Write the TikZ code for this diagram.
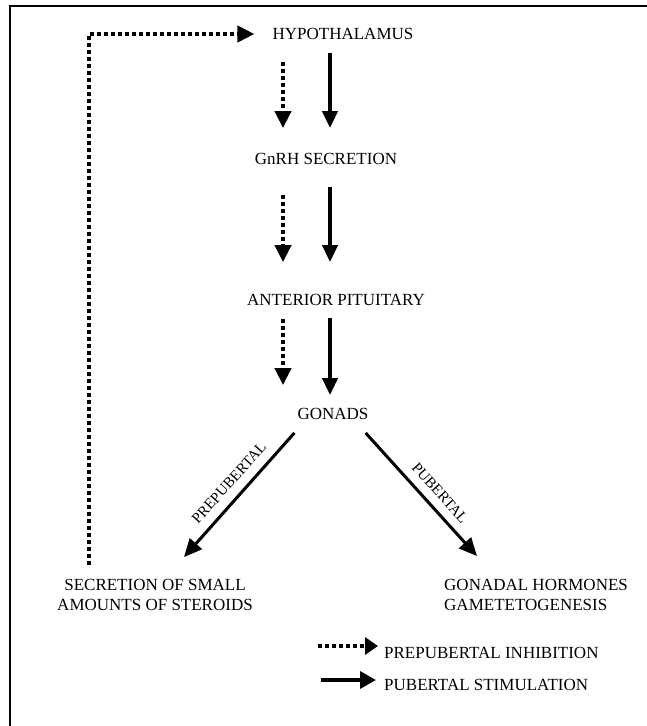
\documentclass[tikz,border=0pt]{standalone}
\usepackage{fontspec}
\setmainfont{Liberation Serif}
\usetikzlibrary{arrows.meta}
\begin{document}
\begin{tikzpicture}[x=1pt,y=-1pt,
  lbl/.style={font=\fontsize{17pt}{20pt}\selectfont, inner sep=0pt},
  small/.style={font=\fontsize{15pt}{18pt}\selectfont, inner sep=0pt},
  solidarr/.style={line width=4pt, -{Triangle[length=17pt,width=15pt]}},
  dotarr/.style={line width=4pt, dash pattern=on 4pt off 3pt, -{Triangle[length=17pt,width=16pt]}},
  legdot/.style={line width=3.5pt, dash pattern=on 4pt off 3pt, -{Triangle[length=13pt,width=17pt]}},
  legsolid/.style={line width=3.5pt, -{Triangle[length=16pt,width=17pt]}},
  diagarr/.style={line width=3pt, -{Triangle[length=18pt,width=16pt]}},
  frame/.style={line width=2pt}]
\useasboundingbox (0,0) rectangle (647,726);
\draw[frame] (10,727) -- (10,6) -- (648,6);

\node[lbl] (hyp) at (343,34) {HYPOTHALAMUS};
\node[lbl] (gnrh) at (326,159) {GnRH SECRETION};
\node[lbl] (ant) at (336,300) {ANTERIOR PITUITARY};
\node[lbl] (gon) at (333,414) {GONADS};
\node[lbl, align=center] (sec) at (155,595) {SECRETION OF SMALL\\AMOUNTS OF STEROIDS};
\node[lbl, align=left, anchor=west] (gonh) at (444,595) {GONADAL HORMONES\\GAMETETOGENESIS};
\node[lbl, anchor=west] (leg1) at (384,653) {PREPUBERTAL INHIBITION};
\node[lbl, anchor=west] (leg2) at (384,685) {PUBERTAL STIMULATION};

\coordinate (sx) at (330,0);
\coordinate (dx) at (283,0);

\draw[solidarr] ([yshift=-13pt]hyp.south -| sx) -- ([yshift=25pt]gnrh.north -| sx);
\draw[dotarr] ([yshift=-22pt]hyp.south -| dx) -- ([yshift=25pt]gnrh.north -| dx);
\draw[solidarr] ([yshift=-22pt]gnrh.south -| sx) -- ([yshift=32pt]ant.north -| sx);
\draw[dotarr] ([yshift=-30pt]gnrh.south -| dx) -- ([yshift=32pt]ant.north -| dx);
\draw[solidarr] ([yshift=-12pt]ant.south -| sx) -- ([yshift=13pt]gon.north -| sx);
\draw[dotarr] ([yshift=-13pt]ant.south -| dx) -- ([yshift=23pt]gon.north -| dx);

\draw[diagarr] ([xshift=-3pt,yshift=-13pt]gon.south west) -- ([xshift=29pt,yshift=22pt]sec.north);
\draw[diagarr] ([xshift=-3pt,yshift=-13pt]gon.south east) -- ([xshift=33pt,yshift=23pt]gonh.north west);

\node[small, rotate=48] (lp) at (229,483) {PREPUBERTAL};
\node[small, rotate=-48] (lq) at (440,493) {PUBERTAL};

\draw[dotarr] ([xshift=-66pt,yshift=14pt]sec.north) |- ([xshift=-18pt]hyp.west);

\coordinate (l1s) at (318,646);
\coordinate (l2s) at (321,680);
\draw[legdot] (l1s) -- ([xshift=-6pt]leg1.west |- l1s);
\draw[legsolid] (l2s) -- ([xshift=-8pt]leg2.west |- l2s);
\end{tikzpicture}
\end{document}
